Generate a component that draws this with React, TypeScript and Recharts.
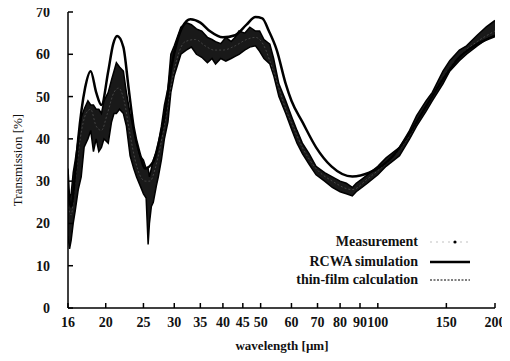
import { ComposedChart, Area, Line, XAxis, YAxis } from 'recharts';

const measWl = [
  16.0, 16.15, 16.3, 16.5, 16.7, 17.0, 17.3, 17.6, 18.0, 18.3, 18.6, 18.9, 19.2, 19.5, 19.8,
  20.3, 20.7, 21.0, 21.3, 21.7, 22.2, 22.6, 23.1, 23.6, 24.0, 24.5, 25.0, 25.4, 25.7, 25.9,
  26.2, 26.5, 27.0, 27.3, 27.8, 28.3, 28.9, 29.4, 30.0, 31.2, 32.2, 33.2, 34.2, 35.3, 36.5,
  37.5, 38.3, 39.5, 40.7, 42, 43, 44, 45.5, 46.9, 48.5, 49.7, 51, 52.8, 54, 55.7,
  58, 60.2, 62, 64, 66.6, 69.4, 73, 76.4, 80, 83, 86, 88, 91, 94, 100,
  105, 113.7, 120.7, 125.8, 133, 138, 147, 153, 162, 169, 180, 190, 200,
];
const measLo = [
  17, 14, 16, 20, 23, 28, 31, 38, 40, 42, 37, 40, 37, 38, 40,
  39, 44, 46, 46, 47, 46, 43, 36, 33, 31, 29, 27, 26, 15, 20,
  24, 25, 29, 31, 35, 40, 44, 51, 55, 60, 61, 61.7, 60, 59.3, 58,
  59, 57.7, 59, 58.4, 59, 59.5, 60, 61, 61.7, 62, 60.7, 59, 57.7, 55, 50,
  46, 42, 39, 36.5, 34, 31.5, 30, 28.5, 27.5, 27, 26.5, 27.5, 28.5, 29.5, 31.5,
  33.5, 36, 40, 43, 46.5, 49, 53, 56, 58.5, 60, 62, 63.5, 64.5,
];
const measHi = [
  33, 26, 27, 32, 35, 40, 45, 47, 49, 48, 48, 47, 47, 46, 49,
  51, 54, 56, 58, 57, 56, 51, 46, 42, 39, 36, 35, 33, 33, 31,
  33, 35, 37, 39, 43, 48, 52, 60, 62, 66.4, 67.5, 67, 66, 65.5, 64,
  63.5, 63, 62.5, 64, 63, 64, 65.5, 65, 66.4, 65.5, 65.5, 63.5, 62.4, 59, 53,
  49, 45, 42, 39, 36.5, 33.5, 32, 31, 30, 29.5, 28.5, 29.5, 30.5, 31.5, 33.5,
  35.5, 38, 42, 45.5, 49, 51, 56, 58.5, 61, 62, 64.5, 66.5, 68,
];

// RCWA simulation
const rcwaWl = [
  16.0, 16.3, 16.7, 17.0, 17.7, 18.3, 18.9, 19.5, 20.3, 20.9, 21.4, 22.2, 22.9, 23.6, 24.5,
  25.2, 26.5, 27.3, 28.4, 29.5, 30.5, 31.5, 33, 35, 37, 40, 43, 46, 48.5, 50.5,
  52.5, 55, 58, 60, 64, 69.4, 76, 86, 95, 109, 121, 133, 147, 162, 180, 200,
];
const rcwaT = [
  28, 24, 32, 40, 52, 56, 51, 48, 56, 62.4, 64.3, 61.7, 52, 42.7, 36.3,
  33, 34.6, 38.7, 46, 57, 63, 66.5, 68.3, 67.5, 65.5, 64, 64.5, 67, 68.8, 68.5,
  65.5, 61, 53, 49, 44, 38, 33.5, 31.1, 32, 35.8, 41.5, 47.7, 54.1, 59.3, 62.4, 64.3,
];

// thin-film calculation
const thinWl = [
  16, 16.3, 16.7, 17.2, 17.8, 18.3, 18.9, 19.5, 20.2, 21, 21.6, 22.3, 23, 23.8, 24.6,
  25.3, 26, 26.8, 27.6, 28.5, 29.5, 30.5, 32, 34, 36, 38, 40, 43, 46, 48.5,
  51, 53, 55.7, 58, 60.2, 64, 69.4, 76.4, 86, 94, 100, 110, 121, 133, 147, 162, 180, 200,
];
const thinT = [
  24, 22, 30, 40, 46, 47, 43, 42, 46, 51, 52, 49, 42, 35, 31,
  30, 30, 33, 38, 45, 53, 59, 63, 63.5, 62, 61, 61, 62, 63.5, 64,
  62, 58, 52, 47, 43.5, 38, 33, 30, 28, 30.5, 32.5, 36, 41, 47.7, 54.5, 59.5, 63, 65.5,
];

const xTicks = [16, 20, 25, 30, 35, 40, 45, 50, 60, 70, 80, 90, 100, 150, 200];
const yTicks = [0, 10, 20, 30, 40, 50, 60, 70];

const measData = measWl.map((wl, i) => ({ wl, range: [measLo[i], measHi[i]] }));
const rcwaData = rcwaWl.map((wl, i) => ({ wl, t: rcwaT[i] }));
const thinData = thinWl.map((wl, i) => ({ wl, t: thinT[i] }));

const font = "'Liberation Serif', 'DejaVu Serif', serif";

const XTick = ({ x, y, payload }: any) => (
  <text x={x} y={y} dy={10} textAnchor="middle" fill="#111" fontSize={14} fontWeight={700} fontFamily={font}>
    {payload.value}
  </text>
);
const YTick = ({ x, y, payload }: any) => (
  <text x={x} y={y} dy={5} textAnchor="end" fill="#111" fontSize={14} fontWeight={700} fontFamily={font}>
    {payload.value}
  </text>
);

// positions in wrapper coords (page minus the 8px body margin)
const legendItems = [
  { label: 'Measurement', kind: 'dot', y: 234 },
  { label: 'RCWA simulation', kind: 'solid', y: 254 },
  { label: 'thin-film calculation', kind: 'dotted', y: 272 },
];

export default function App() {
  return (
    <div style={{ position: 'relative', width: 494, height: 345, fontFamily: font }}>
      <style>{'.recharts-surface{overflow:visible}'}</style>
      <ComposedChart width={494} height={345} margin={{ top: 4, right: 7, bottom: 0, left: 0 }}>
        <XAxis
          dataKey="wl"
          type="number"
          scale="log"
          domain={[16, 200]}
          allowDataOverflow
          ticks={xTicks}
          interval={0}
          height={45}
          tickSize={-5}
          tickMargin={14}
          tick={XTick}
          stroke="#000"
          strokeWidth={1.5}
        />
        <XAxis
          xAxisId="top"
          orientation="top"
          type="number"
          scale="log"
          domain={[16, 200]}
          allowDataOverflow
          ticks={xTicks}
          interval={0}
          height={0}
          tickSize={-5}
          tickFormatter={() => ''}
          stroke="#000"
          strokeWidth={1.5}
        />
        <YAxis
          type="number"
          domain={[0, 70]}
          ticks={yTicks}
          interval={0}
          width={60}
          tickSize={-5}
          tickMargin={23}
          tick={YTick}
          stroke="#000"
          strokeWidth={1.5}
        />
        <YAxis
          yAxisId="right"
          orientation="right"
          type="number"
          domain={[0, 70]}
          ticks={yTicks}
          interval={0}
          width={0}
          tickSize={-5}
          tickFormatter={() => ''}
          stroke="#000"
          strokeWidth={1.5}
        />
        <Area
          data={measData}
          dataKey="range"
          type="linear"
          stroke="#000"
          strokeWidth={1.5}
          fill="#000"
          fillOpacity={0.9}
          isAnimationActive={false}
        />
        <Line
          data={thinData}
          dataKey="t"
          type="monotone"
          stroke="#444"
          strokeWidth={1}
          strokeDasharray="2 2"
          dot={false}
          isAnimationActive={false}
        />
        <Line
          data={rcwaData}
          dataKey="t"
          type="monotone"
          stroke="#000"
          strokeWidth={2.5}
          dot={false}
          isAnimationActive={false}
        />
      </ComposedChart>

      <div
        style={{
          position: 'absolute', left: 10, top: 152, transform: 'translate(-50%, -50%) rotate(-90deg)',
          whiteSpace: 'nowrap', fontSize: 13, color: '#111',
        }}
      >
        Transmission [%]
      </div>
      <div
        style={{
          position: 'absolute', left: 274, top: 338, transform: 'translate(-50%, -50%)',
          whiteSpace: 'nowrap', fontSize: 13, fontWeight: 700, color: '#111',
        }}
      >
        wavelength [µm]
      </div>

      {legendItems.map((it) => (
        <div key={it.label}>
          <div
            style={{
              position: 'absolute', right: 494 - 410, top: it.y, transform: 'translateY(-50%)',
              whiteSpace: 'nowrap', fontSize: 14, fontWeight: 700, color: '#111',
            }}
          >
            {it.label}
          </div>
          <svg style={{ position: 'absolute', left: 420, top: it.y - 4 }} width={44} height={8}>
            {it.kind === 'dot' && (
              <>
                <line x1={2} y1={4} x2={42} y2={4} stroke="#999" strokeWidth={0.6} strokeDasharray="2 4" />
                <circle cx={27} cy={4} r={1.6} fill="#000" />
              </>
            )}
            {it.kind === 'solid' && <line x1={2} y1={4} x2={42} y2={4} stroke="#000" strokeWidth={2.5} />}
            {it.kind === 'dotted' && (
              <line x1={2} y1={4} x2={42} y2={4} stroke="#000" strokeWidth={1.2} strokeDasharray="2 1.5" />
            )}
          </svg>
        </div>
      ))}
    </div>
  );
}
